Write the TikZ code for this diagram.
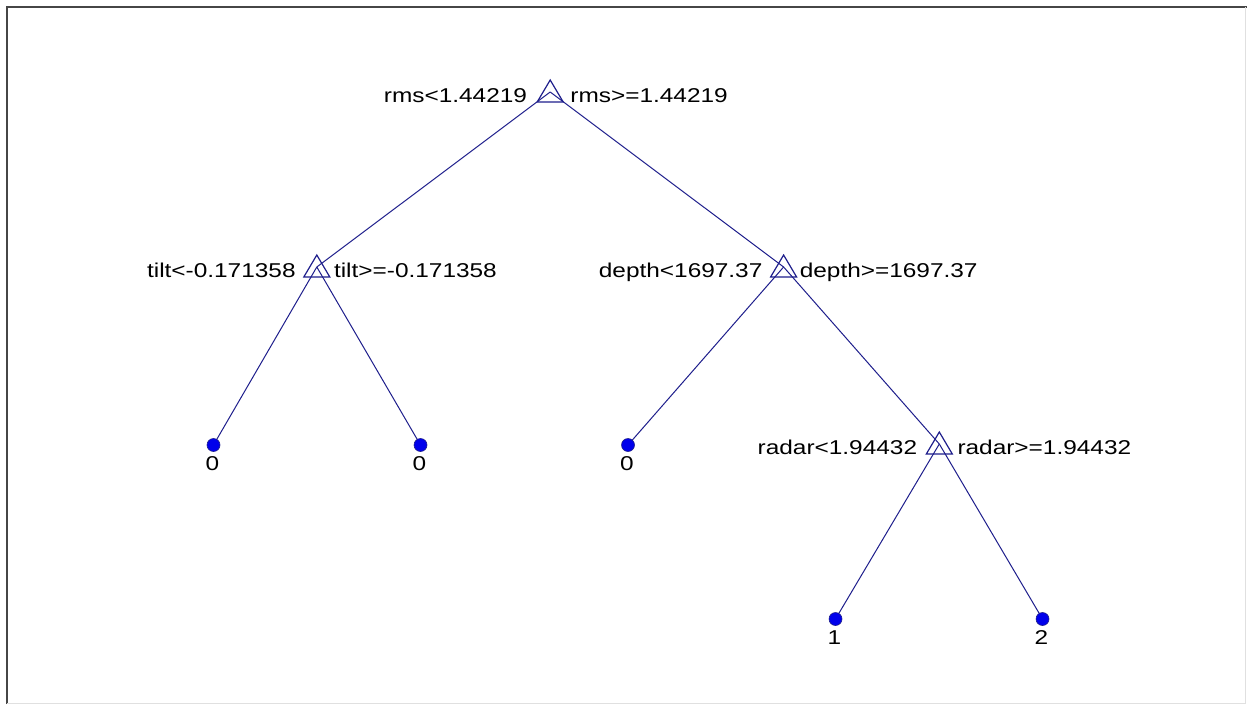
\documentclass[tikz,border=0pt]{standalone}
\usepackage{fontspec}
\setmainfont[FakeStretch=1.22]{Liberation Sans}
\definecolor{edgeblue}{RGB}{30,30,140}
\definecolor{leafblue}{RGB}{0,0,235}
\definecolor{framegray}{RGB}{70,70,70}
\begin{document}
\begin{tikzpicture}[x=1pt,y=-1pt,
  edge/.style={draw=edgeblue,line width=1pt},
  tri/.style={draw=edgeblue,line width=1.2pt,line join=miter},
  leaf/.style={circle,fill=leafblue,draw=edgeblue,line width=0.6pt,minimum size=13pt,inner sep=0pt},
  txt/.style={inner sep=0pt,font=\fontsize{20}{24}\selectfont,text=black},
  lt/.style={txt,anchor=base east},
  rt/.style={txt,anchor=base west},
  lv/.style={txt,anchor=base}]
\useasboundingbox (0,0) rectangle (1247,704);
\fill[white] (0,0) rectangle (1247,704);
% frame
\draw[framegray,line width=2pt] (7,704) -- (7,7) -- (1247,7);
\draw[black!12,line width=1pt] (1245,7) -- (1245,703) -- (7,703);
% internal nodes
\coordinate (r) at (550.2,92);
\coordinate (t) at (316.8,267);
\coordinate (d) at (783.6,267);
\coordinate (ra) at (939.3,444);
% leaves
\coordinate (l1) at (213.5,445);
\coordinate (l2) at (420.5,445);
\coordinate (l3) at (628,445);
\coordinate (l4) at (835.5,619);
\coordinate (l5) at (1042.5,619);
% edges
\draw[edge] (r) -- (t);
\draw[edge] (r) -- (d);
\draw[edge] (t) -- (l1);
\draw[edge] (t) -- (l2);
\draw[edge] (d) -- (l3);
\draw[edge] (d) -- (ra);
\draw[edge] (ra) -- (l4);
\draw[edge] (ra) -- (l5);
% triangle markers
\foreach \n in {r,t,d,ra}
  \draw[tri] ([shift={(0,-12)}]\n) -- ([shift={(13,10)}]\n) -- ([shift={(-13,10)}]\n) -- cycle;
% leaf markers
\foreach \n in {l1,l2,l3,l4,l5}
  \node[leaf] (m\n) at (\n) {};
% split labels
\node[lt] (rL) at ([shift={(-23,10)}]r) {rms<1.44219};
\node[rt] (rR) at ([shift={(20,10)}]r) {rms>=1.44219};
\node[lt] (tL) at ([shift={(-21,10)}]t) {tilt<-0.171358};
\node[rt] (tR) at ([shift={(17,10)}]t) {tilt>=-0.171358};
\node[lt] (dL) at ([shift={(-21,10)}]d) {depth<1697.37};
\node[rt] (dR) at ([shift={(16,10)}]d) {depth>=1697.37};
\node[lt] (raL) at ([shift={(-22,10)}]ra) {radar<1.94432};
\node[rt] (raR) at ([shift={(18,10)}]ra) {radar>=1.94432};
% leaf labels
\node[lv] (v1) at ([shift={(-1,25)}]l1) {0};
\node[lv] (v2) at ([shift={(-1,25)}]l2) {0};
\node[lv] (v3) at ([shift={(-1,25)}]l3) {0};
\node[lv] (v4) at ([shift={(-1,25)}]l4) {1};
\node[lv] (v5) at ([shift={(-1,25)}]l5) {2};
\end{tikzpicture}
\end{document}
